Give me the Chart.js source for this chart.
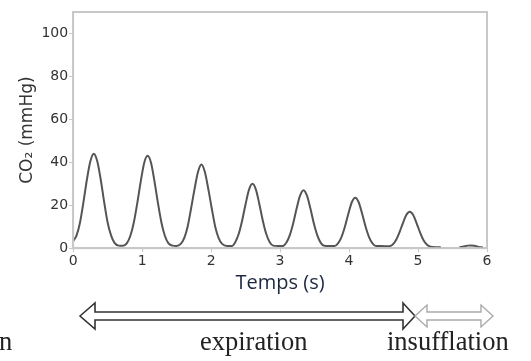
<!DOCTYPE html>
<html>
<head>
<meta charset="utf-8">
<script src="https://cdn.jsdelivr.net/npm/chart.js@4"></script>
<style>
  body { margin: 0; background: #fff; width: 531px; height: 361px; overflow: hidden; position: relative; }
  #wrap { position: absolute; left: 0; top: 0; width: 531px; height: 299px; }
  .lbl { position: absolute; font-family: "Liberation Serif", serif; font-size: 26.5px; color: #222; line-height: 1; white-space: nowrap; }
  svg { position: absolute; left: 0; top: 0; }
</style>
</head>
<body>
<div id="wrap"><canvas id="co2Chart"></canvas></div>

<svg width="531" height="361">
  <polygon points="80,316 95,303 95,312 403,312 403,303 415,316 403,329 403,320 95,320 95,329"
           fill="#fff" stroke="#333" stroke-width="1.6" stroke-linejoin="miter"/>
  <polygon points="415,316 427,305 427,312 481,312 481,305 493,316 481,327 481,320 427,320 427,327"
           fill="#fff" stroke="#aaa" stroke-width="1.4"/>
</svg>
<div class="lbl" style="left:-1px;top:328px">n</div>
<div class="lbl" style="left:200px;top:328px">expiration</div>
<div class="lbl" style="left:387px;top:328px">insufflation</div>

<script>
// CO2 trace (time in s, CO2 in mmHg)
const times = [
  0.00, 0.05, 0.10, 0.15, 0.20, 0.25, 0.30, 0.35, 0.40, 0.45, 0.50, 0.55, 0.60, 0.66, 0.72,
  0.78, 0.83, 0.88, 0.93, 0.98, 1.03, 1.08, 1.13, 1.18, 1.23, 1.28, 1.33, 1.38, 1.44, 1.50,
  1.56, 1.61, 1.66, 1.71, 1.76, 1.81, 1.86, 1.91, 1.96, 2.01, 2.06, 2.11, 2.16, 2.23, 2.30,
  2.35, 2.40, 2.45, 2.50, 2.55, 2.60, 2.65, 2.70, 2.75, 2.80, 2.85, 2.90, 2.97,
  3.04, 3.09, 3.14, 3.19, 3.24, 3.29, 3.34, 3.39, 3.44, 3.49, 3.54, 3.59, 3.64, 3.72,
  3.79, 3.84, 3.89, 3.94, 3.99, 4.04, 4.09, 4.14, 4.19, 4.24, 4.29, 4.34, 4.39, 4.47,
  4.58, 4.63, 4.68, 4.73, 4.78, 4.83, 4.88, 4.93, 4.98, 5.03, 5.08, 5.13, 5.18, 5.25, 5.33,
  5.45,
  5.60, 5.66, 5.72, 5.76, 5.82, 5.88, 5.94
];
const co2 = [
  3.3, 6, 12, 21.5, 32, 40.5, 44, 40.5, 32, 21.5, 12, 6, 2.5, 1.2, 1.1,
  2.4, 5.8, 12, 21, 31, 39.7, 43, 39.7, 31, 21, 12, 5.8, 2.4, 1.2, 1,
  2, 4.7, 10, 18.5, 27.5, 35.5, 39, 35.5, 27.5, 18.5, 10, 4.7, 2, 1, 1,
  2.8, 6.6, 12.8, 20.5, 27.3, 30, 27.3, 20.5, 12.8, 6.6, 2.8, 1.2, 1,
  1, 2.5, 6, 11.5, 18.5, 24.5, 27, 24.5, 18.5, 11.5, 6, 2.5, 1.1, 1,
  1, 2.2, 5.2, 10, 16, 21.4, 23.5, 21.4, 16, 10, 5.2, 2.2, 1, 1,
  0.9, 1.6, 3.7, 7.3, 11.6, 15.5, 17, 15.5, 11.6, 7.3, 3.7, 1.6, 0.7, 0.5, 0.5,
  null,
  0.4, 0.8, 1.2, 1.3, 1.1, 0.6, 0.3
];
const xTicks = [0, 1, 2, 3, 4, 5, 6];
const yTicks = [0, 20, 40, 60, 80, 100];

const frameColor = '#c8c8c8';

const boxPlugin = {
  id: 'box',
  afterDraw(chart) {
    const { ctx, chartArea: a } = chart;
    ctx.save();
    ctx.strokeStyle = frameColor;
    ctx.lineWidth = 2;
    ctx.strokeRect(a.left, a.top, a.right - a.left, a.bottom - a.top);
    ctx.restore();
  }
};

const tickFont = { family: 'DejaVu Sans', size: 14 };

new Chart(document.getElementById('co2Chart').getContext('2d'), {
  type: 'line',
  data: {
    datasets: [{
      data: times.map((t, i) => ({ x: t, y: co2[i] })),
      borderColor: '#555',
      borderWidth: 2,
      pointRadius: 0,
      cubicInterpolationMode: 'monotone',
      spanGaps: false
    }]
  },
  options: {
    responsive: true,
    maintainAspectRatio: false,
    animation: false,
    layout: { padding: { left: 17, right: 44, top: 12, bottom: 0 } },
    plugins: { legend: { display: false }, tooltip: { enabled: false } },
    scales: {
      x: {
        type: 'linear',
        min: 0, max: 6,
        afterBuildTicks: axis => { axis.ticks = xTicks.map(v => ({ value: v })); },
        grid: { drawOnChartArea: false, drawTicks: true, tickLength: 4, color: frameColor },
        border: { color: frameColor, width: 2 },
        ticks: { font: tickFont, color: '#333', padding: 1, maxRotation: 0 },
        title: {
          display: true, text: 'Temps (s)',
          font: { family: 'Open Sans', size: 20 }, color: '#1e2840',
          padding: { top: 0, bottom: 4 }
        }
      },
      y: {
        min: 0, max: 110,
        afterBuildTicks: axis => { axis.ticks = yTicks.map(v => ({ value: v })); },
        grid: { drawOnChartArea: false, drawTicks: true, tickLength: 4, color: frameColor },
        border: { color: frameColor, width: 2 },
        ticks: { font: tickFont, color: '#333', padding: 1 },
        title: {
          display: true, text: 'CO₂ (mmHg)',
          font: { family: 'DejaVu Sans', size: 17 }, color: '#333',
          padding: { top: 0, bottom: 3 }
        }
      }
    }
  },
  plugins: [boxPlugin]
});
</script>
</body>
</html>
